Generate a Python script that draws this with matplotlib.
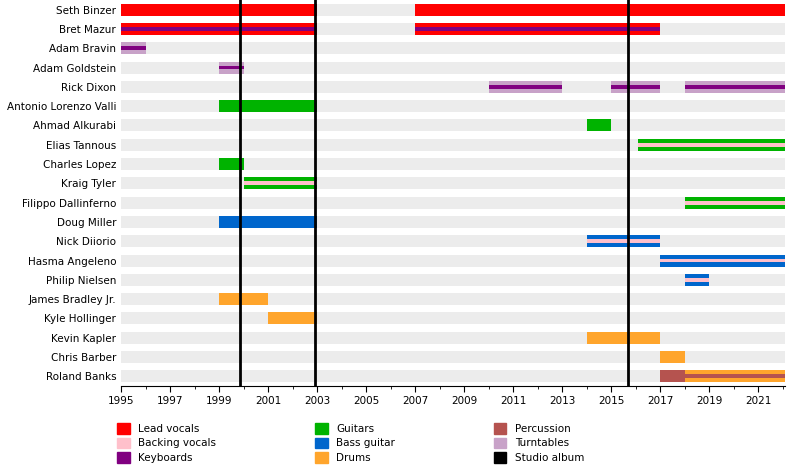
import matplotlib
matplotlib.use("Agg")
import matplotlib.pyplot as plt
from matplotlib.patches import Patch

END = 2022.1
members = ["Seth Binzer", "Bret Mazur", "Adam Bravin", "Adam Goldstein", "Rick Dixon",
           "Antonio Lorenzo Valli", "Ahmad Alkurabi", "Elias Tannous", "Charles Lopez",
           "Kraig Tyler", "Filippo Dallinferno", "Doug Miller", "Nick Diiorio",
           "Hasma Angeleno", "Philip Nielsen", "James Bradley Jr.", "Kyle Hollinger",
           "Kevin Kapler", "Chris Barber", "Roland Banks"]

colors = {"Lead vocals": "#ff0000", "Backing vocals": "#ffc0cb", "Keyboards": "#800080",
          "Guitars": "#00b300", "Bass guitar": "#0066cc", "Drums": "#ffa52c",
          "Percussion": "#b5534f", "Turntables": "#c8a2c8", "Studio album": "#000000"}

# (member, start, end, main role, secondary role or None)
spans = [
    ("Seth Binzer", 1995, 2003, "Lead vocals", None),
    ("Seth Binzer", 2007, END, "Lead vocals", None),
    ("Bret Mazur", 1995, 2003, "Lead vocals", "Keyboards"),
    ("Bret Mazur", 2007, 2017, "Lead vocals", "Keyboards"),
    ("Adam Bravin", 1995, 1996, "Turntables", "Keyboards"),
    ("Adam Goldstein", 1999, 2000, "Turntables", "Keyboards"),
    ("Rick Dixon", 2010, 2013, "Turntables", "Keyboards"),
    ("Rick Dixon", 2015, 2017, "Turntables", "Keyboards"),
    ("Rick Dixon", 2018, END, "Turntables", "Keyboards"),
    ("Antonio Lorenzo Valli", 1999, 2003, "Guitars", None),
    ("Ahmad Alkurabi", 2014, 2015, "Guitars", None),
    ("Elias Tannous", 2016.1, END, "Guitars", "Backing vocals"),
    ("Charles Lopez", 1999, 2000, "Guitars", None),
    ("Kraig Tyler", 2000, 2003, "Guitars", "Backing vocals"),
    ("Filippo Dallinferno", 2018, END, "Guitars", "Backing vocals"),
    ("Doug Miller", 1999, 2003, "Bass guitar", None),
    ("Nick Diiorio", 2014, 2017, "Bass guitar", "Backing vocals"),
    ("Hasma Angeleno", 2017, END, "Bass guitar", "Backing vocals"),
    ("Philip Nielsen", 2018, 2019, "Bass guitar", "Backing vocals"),
    ("James Bradley Jr.", 1999, 2001, "Drums", None),
    ("Kyle Hollinger", 2001, 2003, "Drums", None),
    ("Kevin Kapler", 2014, 2017, "Drums", None),
    ("Chris Barber", 2017, 2018, "Drums", None),
    ("Roland Banks", 2017, 2018, "Percussion", None),
    ("Roland Banks", 2018, END, "Drums", "Percussion"),
]
albums = [1999.85, 2002.9, 2015.7]

fig = plt.figure(figsize=(8, 4.7), dpi=100)
ax = fig.add_axes([121 / 800, 1 - 386 / 470, 664 / 800, 386 / 470])
n = len(members)
ax.set_ylim(n - 0.5, -0.5)
ax.set_xlim(1995, END)
for i in range(n):
    ax.barh(i, END - 1995, left=1995, height=0.62, color="#ececec", zorder=0)
for m, s, e, r1, r2 in spans:
    y = members.index(m)
    ax.barh(y, e - s, left=s, height=0.62, color=colors[r1], zorder=2)
    if r2:
        ax.barh(y, e - s, left=s, height=0.2, color=colors[r2], zorder=3)
for a in albums:
    ax.axvline(a, color="black", lw=2, zorder=4)

ax.set_yticks(range(n))
ax.set_yticklabels(members, fontsize=7.5)
ax.set_xticks(range(1995, 2022, 2))
ax.set_xticks(range(1995, 2023), minor=True)
ax.tick_params(axis="x", labelsize=7.5, length=4)
ax.tick_params(axis="x", which="minor", length=2)
ax.tick_params(axis="y", length=0)
for sp in ["top", "right", "left"]:
    ax.spines[sp].set_visible(False)

order = ["Lead vocals", "Backing vocals", "Keyboards", "Guitars", "Bass guitar", "Drums",
         "Percussion", "Turntables", "Studio album"]
handles = [Patch(color=colors[k], label=k) for k in order]
fig.legend(handles=handles, loc="lower left", bbox_to_anchor=(0.135, -0.005), ncol=3,
           frameon=False, fontsize=7.5, handlelength=1.2, handleheight=1.2,
           columnspacing=9.5, labelspacing=0.35)
fig.savefig("out.png", dpi=100)
